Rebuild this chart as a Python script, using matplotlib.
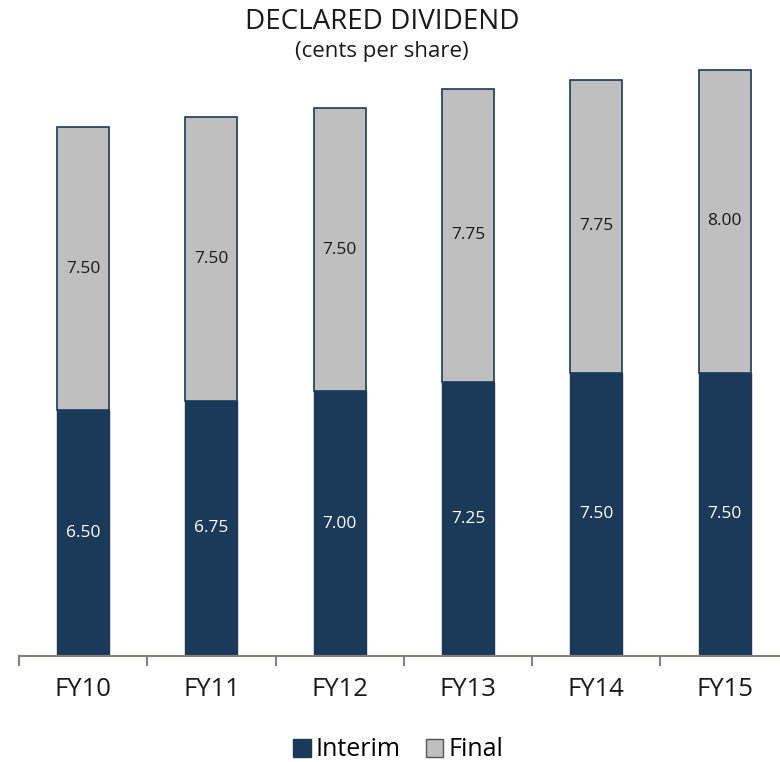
import matplotlib.pyplot as plt
from matplotlib.patches import Patch
import numpy as np

years = ['FY10', 'FY11', 'FY12', 'FY13', 'FY14', 'FY15']
interim = [6.50, 6.75, 7.00, 7.25, 7.50, 7.50]
final = [7.50, 7.50, 7.50, 7.75, 7.75, 8.00]

navy = '#1b3a5a'
grey = '#bfbfbf'
axis_col = '#857f79'

plt.rcParams['font.family'] = ['Open Sans', 'DejaVu Sans']

fig = plt.figure(figsize=(7.8, 7.62), dpi=100)
# axes: baseline at y=656px, 128.3px per category starting at x=19
W, H = 780, 762
left, base, step = 19, 656, 128.3
top = 40
ax = fig.add_axes([left / W, (H - base) / H, 6 * step / W, (base - top) / H])

x = np.arange(len(years))
ax.bar(x, interim, width=0.405, color=navy, edgecolor=navy, linewidth=1)
ax.bar(x, final, width=0.405, bottom=interim, color=grey, edgecolor=navy, linewidth=1.2)

for i in range(len(years)):
    ax.text(x[i], interim[i] / 2, f'{interim[i]:.2f}', ha='center', va='center',
            color='white', fontsize=12.5)
    ax.text(x[i], interim[i] + final[i] / 2, f'{final[i]:.2f}', ha='center', va='center',
            color='#1a1a1a', fontsize=12.5)

ax.set_xlim(-0.5, 5.5)
ax.set_ylim(0, (base - top) / 37.8)
for s in ['top', 'right', 'left']:
    ax.spines[s].set_visible(False)
ax.spines['bottom'].set_color(axis_col)
ax.spines['bottom'].set_linewidth(1.5)
ax.set_yticks([])
ax.set_xticks(np.arange(-0.5, 6, 1))
ax.set_xticklabels([])
ax.tick_params(axis='x', length=7, width=1.5, color=axis_col)
for i, y in enumerate(years):
    ax.text(x[i], -0.88, y, ha='center', va='center', fontsize=18.5, color='#1a1a1a')

fig.text(382 / W, 1 - 22 / H, 'DECLARED DIVIDEND', ha='center', va='center', fontsize=20, color='#1a1a1a')
fig.text(382 / W, 1 - 52 / H, '(cents per share)', ha='center', va='center', fontsize=16, color='#1a1a1a')

handles = [Patch(facecolor=navy, edgecolor=navy), Patch(facecolor=grey, edgecolor='#555555')]
fig.legend(handles, ['Interim', 'Final'], loc='center', bbox_to_anchor=(398 / W, 1 - 750 / H),
           ncol=2, frameon=False, fontsize=18, handlelength=0.7, handleheight=0.7,
           handletextpad=0.2, columnspacing=1.0)

fig.savefig('out.png', dpi=100)
